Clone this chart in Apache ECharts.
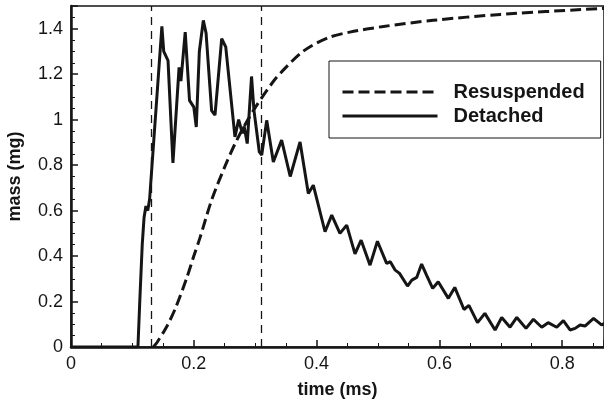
<!DOCTYPE html>
<html>
<head>
<meta charset="utf-8">
<script src="https://cdn.jsdelivr.net/npm/echarts@6/dist/echarts.min.js"></script>
<style>
  html, body { margin: 0; padding: 0; background: #fff; }
  #chart { width: 604px; height: 403px; }
</style>
</head>
<body>
<div id="chart"></div>
<script>
// detached mass (mg) vs time (ms)
const detached = [
  [0, 0], [0.109, 0], [0.112, 0.2], [0.116, 0.45], [0.119, 0.57], [0.122, 0.62],
  [0.125, 0.6], [0.128, 0.65], [0.148, 1.41], [0.151, 1.3], [0.158, 1.26], [0.166, 0.81],
  [0.176, 1.23], [0.179, 1.17], [0.186, 1.385], [0.193, 1.085], [0.2, 1.055], [0.204, 0.968],
  [0.209, 1.3], [0.2155, 1.437], [0.22, 1.38], [0.229, 1.04], [0.2345, 1.02], [0.2454, 1.356],
  [0.252, 1.32], [0.267, 0.924], [0.273, 1.0], [0.279, 0.94], [0.282, 0.97], [0.287, 0.895],
  [0.294, 1.19], [0.298, 1.04], [0.3067, 0.858], [0.3106, 0.844], [0.3187, 0.997], [0.3295, 0.814],
  [0.343, 0.91], [0.357, 0.75], [0.373, 0.902], [0.3865, 0.675], [0.3946, 0.712], [0.4137, 0.507],
  [0.4246, 0.58], [0.438, 0.5], [0.449, 0.536], [0.4625, 0.41], [0.4725, 0.47], [0.487, 0.36],
  [0.499, 0.465], [0.514, 0.368], [0.52, 0.375], [0.528, 0.338], [0.535, 0.324], [0.548, 0.268],
  [0.555, 0.294], [0.563, 0.306], [0.571, 0.365], [0.579, 0.316], [0.589, 0.258], [0.598, 0.287],
  [0.6145, 0.214], [0.625, 0.262], [0.64, 0.165], [0.648, 0.183], [0.662, 0.107], [0.674, 0.148],
  [0.6906, 0.075], [0.7014, 0.13], [0.715, 0.087], [0.726, 0.13], [0.741, 0.082], [0.753, 0.122],
  [0.7666, 0.087], [0.777, 0.107], [0.791, 0.087], [0.8018, 0.116], [0.8127, 0.075], [0.821, 0.082],
  [0.829, 0.097], [0.837, 0.092], [0.851, 0.126], [0.864, 0.097], [0.87, 0.105]
]

// resuspended mass (mg) vs time (ms)
const resuspended = [
  [0.134, 0], [0.14, 0.02], [0.156, 0.09], [0.17, 0.17], [0.188, 0.3], [0.2, 0.4],
  [0.21, 0.48], [0.229, 0.646], [0.25, 0.79], [0.27, 0.91], [0.297, 1.04], [0.33, 1.17],
  [0.35, 1.23], [0.373, 1.29], [0.39, 1.322], [0.42, 1.362], [0.454, 1.385], [0.509, 1.41],
  [0.59, 1.437], [0.699, 1.463], [0.87, 1.49]
]

// vertical reference lines (ms)
const markTimes = [0.125, 0.3125]

const seriesNames = ['Resuspended', 'Detached']

const font = '"Liberation Sans", Arial, Helvetica, sans-serif'
const ink = '#151515'

let myChart = echarts.init(document.getElementById('chart'))

let option = {
  animation: false,
  backgroundColor: '#fff',
  grid: {
    left: 71,
    right: 0,
    top: 6,
    bottom: 56,
    outerBoundsMode: 'none',
    containLabel: false,
    show: true,
    borderColor: ink,
    borderWidth: 1.5
  },
  legend: {
    left: 329,
    top: 61,
    orient: 'vertical',
    backgroundColor: '#fff',
    borderColor: ink,
    borderWidth: 1,
    borderRadius: 0,
    padding: [21, 16, 12, 12],
    itemGap: 4,
    itemWidth: 95,
    itemHeight: 14,
    itemStyle: { opacity: 0 },
    textStyle: {
      fontFamily: font,
      fontSize: 20,
      fontWeight: 'bold',
      color: ink,
      lineHeight: 20,
      padding: [0, 0, 0, 11]
    },
    data: [
      { name: seriesNames[0], itemStyle: { opacity: 0 }, lineStyle: { width: 3, type: [11, 5], color: ink } },
      { name: seriesNames[1], itemStyle: { opacity: 0 }, lineStyle: { width: 3, type: 'solid', color: ink } }
    ]
  },
  xAxis: {
    type: 'value',
    min: 0,
    max: 0.868,
    interval: 0.2,
    name: 'time (ms)',
    nameLocation: 'middle',
    nameGap: 34,
    nameTextStyle: { fontFamily: font, fontSize: 18, fontWeight: 'bold', color: ink },
    axisLine: { show: true, onZero: false, lineStyle: { color: ink, width: 2.5 } },
    axisTick: { show: true, inside: true, length: 7, lineStyle: { color: ink, width: 1.5 } },
    minorTick: { show: true, splitNumber: 4, length: 4, lineStyle: { color: ink, width: 1 } },
    axisLabel: {
      fontFamily: font, fontSize: 18, color: ink, margin: 8, showMaxLabel: false,
      formatter: (v) => String(Math.round(v * 10) / 10)
    },
    splitLine: { show: false }
  },
  yAxis: {
    type: 'value',
    min: 0,
    max: 1.5,
    interval: 0.2,
    name: 'mass (mg)',
    nameLocation: 'middle',
    nameGap: 47,
    nameTextStyle: { fontFamily: font, fontSize: 18, fontWeight: 'bold', color: ink },
    axisLine: { show: true, onZero: false, lineStyle: { color: ink, width: 2.5 } },
    axisTick: { show: true, inside: true, length: 7, lineStyle: { color: ink, width: 1.5 } },
    minorTick: { show: true, splitNumber: 4, length: 4, lineStyle: { color: ink, width: 1 } },
    axisLabel: {
      fontFamily: font, fontSize: 18, color: ink, margin: 8, showMaxLabel: false,
      formatter: (v) => String(Math.round(v * 10) / 10)
    },
    splitLine: { show: false }
  },
  series: [
    {
      name: seriesNames[0],
      type: 'line',
      data: resuspended,
      symbol: 'none',
      smooth: 0.3,
      lineStyle: { color: ink, width: 3, type: [11, 5] },
      itemStyle: { color: ink },
      z: 3
    },
    {
      name: seriesNames[1],
      type: 'line',
      data: detached,
      symbol: 'none',
      lineStyle: { color: ink, width: 3 },
      itemStyle: { color: ink },
      z: 4,
      markLine: {
        silent: true,
        symbol: 'none',
        label: { show: false },
        lineStyle: { color: ink, width: 1.3, type: [8, 6] },
        data: markTimes.map((t) => ({ xAxis: t }))
      }
    }
  ]
}

myChart.setOption(option)
</script>
</body>
</html>
